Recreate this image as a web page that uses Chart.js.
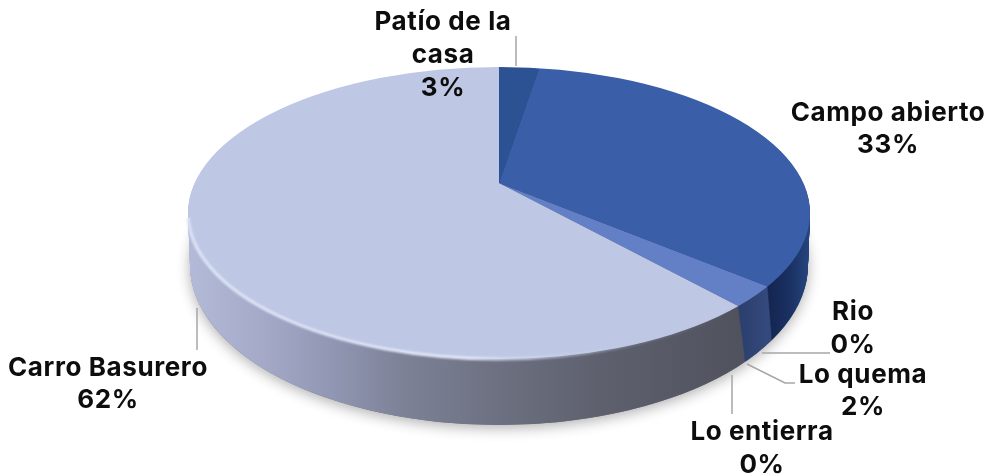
<!DOCTYPE html>
<html>
<head>
<meta charset="utf-8">
<style>
html, body { margin: 0; padding: 0; background: #fff; }
canvas { display: block; }
</style>
<script src="https://cdn.jsdelivr.net/npm/chart.js@4/dist/chart.umd.min.js"></script>
</head>
<body>
<canvas id="pie" width="991" height="476"></canvas>
<script>
const categories = ['Patío de la casa', 'Campo abierto', 'Rio', 'Lo quema', 'Lo entierra', 'Carro Basurero'];
const shares = [2.6, 33.3, 0, 2.3, 0, 61.8];

const faceColors = ['#2c5293', '#3a5fa8', '#3a5fa8', '#637fc6', '#637fc6', '#bec8e4'];

// where the pie sits on the page
const apex = { x: 499, y: 183 };
const squash = 0.471;
const topRim = { x: 499, y: 213, rx: 311, ry: 146 };
const bottomRim = { x: 499, y: 265, rx: 309, ry: 160 };
const wallSteps = 60;

const FONT = 'bold 26px Inter, Lato, sans-serif';

// lines of text per category, with centre x and first line middle y
const labelSpots = [
    { lines: ['Patío de la', 'casa'], x: 443, y: 22, gap: 33 },
    { lines: ['Campo abierto'], x: 888, y: 113, gap: 32 },
    { lines: ['Rio'], x: 853, y: 312, gap: 33 },
    { lines: ['Lo quema'], x: 863, y: 375, gap: 32 },
    { lines: ['Lo entierra'], x: 762, y: 432, gap: 33 },
    { lines: ['Carro Basurero'], x: 108, y: 368, gap: 32 }
];

const leaders = [
    [[516, 36], [516, 66]],
    [[762, 353], [830, 353]],
    [[747, 364], [785, 383], [795, 383]],
    [[732, 375], [732, 414]],
    [[197, 308], [197, 350]]
];

function rimPath(ctx, r) {
    ctx.beginPath();
    ctx.ellipse(r.x, r.y, r.rx, r.ry, 0, 0, Math.PI * 2);
}

function toApexFrame(ctx) {
    ctx.translate(apex.x, apex.y);
    ctx.scale(1, squash);
    ctx.translate(-apex.x, -apex.y);
}

function wallGradient(ctx, stops) {
    const g = ctx.createLinearGradient(stops[0][0], 0, stops[stops.length - 1][0], 0);
    const span = stops[stops.length - 1][0] - stops[0][0];
    stops.forEach(s => g.addColorStop((s[0] - stops[0][0]) / span, s[1]));
    return g;
}

const pie3d = {
    id: 'pie3d',
    beforeDatasetsDraw(chart) {
        const ctx = chart.ctx;
        const arcs = chart.getDatasetMeta(0).data;

        // soft shadow under the pie
        ctx.save();
        ctx.shadowColor = 'rgba(0,0,0,0.32)';
        ctx.shadowBlur = 14;
        ctx.shadowOffsetY = 3;
        ctx.fillStyle = '#6c7080';
        rimPath(ctx, bottomRim);
        ctx.fill();
        ctx.restore();

        const sideFill = [
            '#24407a',
            wallGradient(ctx, [[767, '#13254f'], [790, '#1a3163'], [810, '#26467f']]),
            '#1a3163',
            wallGradient(ctx, [[738, '#2b3e6c'], [767, '#344a7c']]),
            '#2b3e6c',
            wallGradient(ctx, [[187, '#b4bbd9'], [260, '#a4aac8'], [340, '#8f95b0'], [400, '#7d8298'], [500, '#6c7080'], [600, '#5e606e'], [738, '#50535e']])
        ];

        // side wall: the same arcs again, stacked from the bottom rim upwards
        for (let i = wallSteps; i >= 1; i--) {
            const t = i / wallSteps;
            const r = {
                x: topRim.x,
                y: topRim.y + (bottomRim.y - topRim.y) * t,
                rx: topRim.rx + (bottomRim.rx - topRim.rx) * t,
                ry: topRim.ry + (bottomRim.ry - topRim.ry) * t
            };
            ctx.save();
            rimPath(ctx, r);
            ctx.clip();
            ctx.translate(0, r.y - topRim.y);
            toApexFrame(ctx);
            arcs.forEach((arc, idx) => {
                const saved = arc.options;
                arc.options = Object.create(saved, { backgroundColor: { value: sideFill[idx] } });
                arc.draw(ctx);
                arc.options = saved;
            });
            ctx.restore();
        }
    },
    beforeDatasetDraw(chart) {
        const ctx = chart.ctx;
        ctx.save();
        rimPath(ctx, topRim);
        ctx.clip();
        toApexFrame(ctx);
    },
    afterDatasetDraw(chart) {
        chart.ctx.restore();
    },
    afterDatasetsDraw(chart) {
        const ctx = chart.ctx;

        // pale bevel along the front edge of the big slice, fading to the right
        ctx.save();
        ctx.beginPath();
        ctx.rect(180, 218, 558, 200);
        ctx.clip();
        ctx.filter = 'blur(1.2px)';
        ctx.strokeStyle = wallGradient(ctx, [[187, '#dfe5f7'], [470, '#e4e8fa'], [640, 'rgba(190,200,228,0.2)'], [738, 'rgba(190,200,228,0)']]);
        ctx.lineWidth = 3;
        rimPath(ctx, topRim);
        ctx.stroke();
        ctx.restore();

        // leader lines
        ctx.save();
        ctx.strokeStyle = '#a6a6a6';
        ctx.lineWidth = 1.5;
        leaders.forEach(pts => {
            ctx.beginPath();
            pts.forEach((p, i) => i ? ctx.lineTo(p[0], p[1]) : ctx.moveTo(p[0], p[1]));
            ctx.stroke();
        });
        ctx.restore();

        // labels
        ctx.save();
        ctx.font = FONT;
        ctx.letterSpacing = '0.6px';
        ctx.fillStyle = '#0d0d0d';
        ctx.textAlign = 'center';
        ctx.textBaseline = 'middle';
        labelSpots.forEach((spot, i) => {
            const rows = spot.lines.concat(Math.round(shares[i]) + '%');
            rows.forEach((row, n) => ctx.fillText(row, spot.x, spot.y + n * spot.gap));
        });
        ctx.restore();
    }
};

new Chart(document.getElementById('pie'), {
    type: 'pie',
    data: {
        labels: categories,
        datasets: [{
            data: shares,
            backgroundColor: faceColors,
            borderWidth: 0,
            clip: false
        }]
    },
    options: {
        responsive: false,
        animation: false,
        radius: 760,
        layout: { padding: { left: 7, bottom: 110 } },
        plugins: { legend: { display: false }, tooltip: { enabled: false } }
    },
    plugins: [pie3d]
});
</script>
</body>
</html>
